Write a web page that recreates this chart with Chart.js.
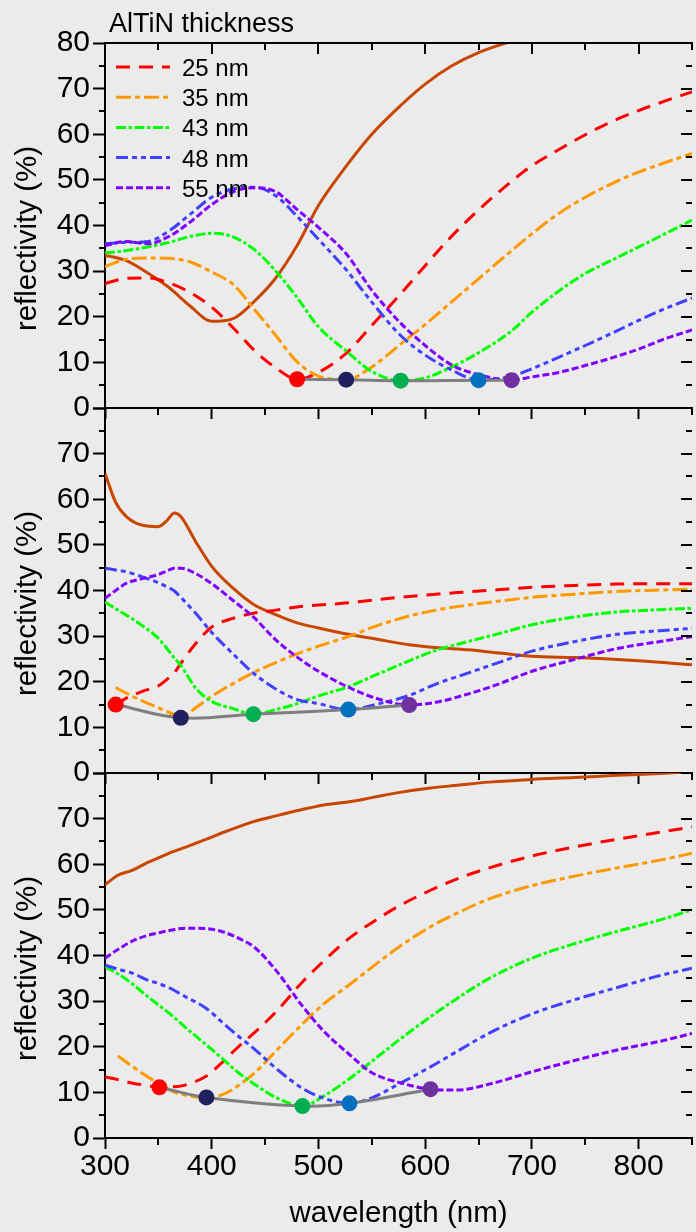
<!DOCTYPE html>
<html>
<head>
<meta charset="utf-8">
<script src="https://cdn.jsdelivr.net/npm/chart.js@4.4.1/dist/chart.umd.min.js"></script>
<style>
  html, body { margin: 0; padding: 0; background: #ebebeb; width: 696px; height: 1232px; overflow: hidden; }
  canvas { position: absolute; left: 0; top: 0; }
</style>
</head>
<body>
<canvas id="panelTop" width="700" height="1232"></canvas>
<canvas id="panelMid" width="700" height="1232"></canvas>
<canvas id="panelBot" width="700" height="1232"></canvas>
<script>
// ---- data ----------------------------------------------------------------
const thicknessLabels = ['25 nm', '35 nm', '43 nm', '48 nm', '55 nm'];

// upper panel
const wlTop   = [300, 320, 340, 360, 380, 400, 420, 440, 460, 480, 500, 526, 550, 577, 600, 625, 650, 681, 700, 725, 750, 775, 800, 825, 850];
const topBare = [33.5, 32.3, 29.6, 26.4, 22.3, 19.0, 19.6, 23.4, 28.5, 35.6, 44.4, 53.0, 60.0, 66.3, 71.0, 75.0, 77.9, 80.4, 81.8, 83.4, 84.9, 86.2, 87.4, 88.5, 89.5];
const top25   = [27.3, 28.4, 28.5, 27.4, 25.3, 22.1, 17.6, 12.6, 8.8, 6.3, 7.8, 12.0, 18.1, 25.0, 31.2, 37.7, 43.4, 49.7, 53.1, 56.6, 59.9, 62.8, 65.2, 67.3, 69.3];
const top35   = [31.0, 32.6, 32.9, 32.8, 32.0, 29.8, 27.1, 21.6, 15.9, 10.1, 7.0, 6.2, 9.0, 14.0, 18.3, 23.3, 28.3, 34.5, 38.2, 42.6, 46.2, 49.2, 51.7, 53.8, 55.8];
const top43   = [34.0, 34.5, 35.3, 36.3, 37.6, 38.3, 37.5, 34.7, 30.0, 24.2, 17.8, 12.5, 8.0, 6.0, 6.6, 9.0, 12.1, 16.9, 21.0, 25.6, 29.5, 32.4, 35.3, 38.2, 41.2];
const top48   = [36.0, 36.3, 36.5, 38.8, 42.5, 46.2, 48.0, 48.4, 46.5, 42.0, 37.0, 30.3, 23.2, 15.9, 11.6, 8.3, 6.1, 7.0, 8.6, 11.1, 13.7, 16.4, 19.2, 21.8, 24.1];
const top55   = [35.6, 36.5, 36.0, 37.6, 40.8, 44.6, 47.4, 48.3, 47.4, 43.5, 39.6, 33.8, 25.8, 18.6, 13.7, 9.4, 7.3, 6.1, 6.8, 7.8, 9.3, 11.0, 12.9, 15.2, 17.1];
const topMinWl = [480, 526, 577, 650, 681];
const topMinR  = [6.3, 6.2, 6.0, 6.1, 6.1];

// middle panel
const wlMid   = [300, 310, 320, 335, 350, 358, 365, 371, 385, 400, 420, 439, 460, 480, 500, 528, 555, 585, 610, 640, 670, 700, 740, 780, 820, 850];
const midBare = [65.7, 59.3, 56.2, 54.3, 54.0, 55.3, 57.0, 56.2, 50.7, 45.3, 40.5, 37.0, 34.7, 32.9, 31.8, 30.4, 29.3, 28.1, 27.5, 27.0, 26.3, 25.6, 25.3, 24.9, 24.3, 23.7];
const mid25   = [null, 15.0, 16.4, 17.9, 19.1, 20.5, 22.0, 24.0, 28.4, 32.0, 33.9, 35.0, 35.7, 36.4, 36.8, 37.3, 38.0, 38.7, 39.2, 39.7, 40.2, 40.7, 41.1, 41.4, 41.5, 41.5];
const mid35   = [null, 18.7, 17.5, 15.8, 14.3, 13.5, 12.8, 12.2, 14.3, 16.8, 19.6, 22.0, 24.2, 26.1, 27.8, 29.9, 32.3, 34.4, 35.7, 36.8, 37.7, 38.5, 39.2, 39.8, 40.1, 40.3];
const mid43   = [37.5, 36.0, 34.6, 32.3, 29.5, 27.3, 25.2, 23.6, 18.6, 15.7, 14.1, 12.9, 13.9, 15.2, 16.9, 18.9, 21.6, 24.6, 26.9, 28.8, 30.6, 32.5, 34.2, 35.3, 35.8, 36.1];
const mid48   = [44.9, 44.5, 44.1, 43.0, 41.7, 40.8, 39.9, 38.5, 35.0, 30.8, 26.1, 21.9, 18.4, 16.1, 15.2, 13.9, 15.1, 17.0, 19.5, 21.9, 24.3, 26.7, 28.8, 30.4, 31.2, 31.7];
const mid55   = [38.3, 40.0, 41.6, 42.6, 43.5, 44.3, 44.9, 44.9, 43.7, 41.5, 37.8, 34.2, 29.2, 25.4, 22.3, 18.8, 16.3, 14.9, 15.5, 17.3, 19.6, 22.3, 24.9, 27.3, 28.8, 29.9];
const midMinWl = [310, 371, 439, 528, 585];
const midMinR  = [15.0, 12.1, 12.9, 13.9, 14.9];

// lower panel
const wlBot   = [300, 312, 326, 340, 351, 363, 375, 395, 410, 425, 440, 460, 485, 505, 529, 550, 575, 605, 630, 660, 700, 740, 780, 820, 850];
const botBare = [55.5, 57.6, 58.7, 60.4, 61.5, 62.7, 63.7, 65.5, 66.9, 68.2, 69.4, 70.6, 72.0, 73.0, 73.7, 74.6, 75.7, 76.7, 77.3, 78.0, 78.6, 79.0, 79.5, 79.9, 80.3];
const bot25   = [13.4, 12.8, 12.0, 11.5, 11.1, 11.2, 11.6, 13.6, 16.6, 20.0, 23.1, 27.6, 34.2, 38.8, 43.8, 47.2, 50.8, 54.3, 56.8, 59.2, 61.8, 63.8, 65.5, 67.0, 68.2];
const bot35   = [null, 18.0, 15.6, 13.4, 11.9, 10.3, 9.4, 8.9, 9.5, 11.5, 14.2, 19.0, 25.0, 29.4, 33.6, 37.4, 41.8, 46.3, 49.3, 52.4, 55.3, 57.4, 59.2, 60.9, 62.4];
const bot43   = [37.5, 36.0, 33.7, 31.0, 29.0, 26.8, 24.3, 20.4, 17.4, 14.3, 11.8, 8.9, 7.0, 9.2, 13.0, 16.8, 21.4, 26.6, 30.6, 35.0, 39.4, 42.6, 45.3, 47.8, 50.0];
const bot48   = [37.9, 37.0, 36.1, 34.6, 33.8, 32.6, 31.0, 28.4, 25.3, 22.3, 19.5, 15.3, 10.9, 8.7, 7.6, 8.8, 11.8, 15.6, 19.0, 23.0, 27.2, 30.3, 33.0, 35.6, 37.2];
const bot55   = [39.4, 41.3, 43.2, 44.4, 45.0, 45.6, 46.0, 45.9, 45.2, 43.8, 41.8, 36.8, 28.9, 23.4, 18.3, 14.3, 12.2, 10.7, 10.5, 11.8, 14.5, 17.0, 19.3, 21.2, 22.9];
const botMinWl = [351, 395, 485, 529, 605];
const botMinR  = [11.1, 8.9, 7.0, 7.6, 10.7];

// ---- styles --------------------------------------------------------------
const FONT = '"Liberation Sans", Arial, Helvetica, sans-serif';
const curveStyles = [
  { color: '#ff0000', dash: [14, 9] },
  { color: '#ff9900', dash: [15, 4, 5, 4] },
  { color: '#00ff00', dash: [10, 2.5, 3.5, 2.5] },
  { color: '#4040ff', dash: [12, 4, 5, 4, 5, 4] },
  { color: '#8000ff', dash: [7, 3] }
];
const bareColor = '#c84600';
const minLineColor = '#7f7f7f';
const minDotColors = ['#ff0000', '#20205f', '#00b050', '#0070c0', '#7030a0'];

Chart.defaults.font.family = FONT;
Chart.defaults.color = '#000';

const toPoints = (xs, ys) => xs.map((x, i) => ({ x, y: ys[i] }));

// tick marks not covered by the axes themselves: minor ticks, inward ticks, top frame, y title
const frameDecor = {
  id: 'frameDecor',
  afterDraw(chart, args, opts) {
    const { ctx, chartArea: a, scales: { x, y } } = chart;
    ctx.save();
    ctx.strokeStyle = '#000';
    ctx.lineWidth = 2;
    ctx.lineCap = 'butt';
    ctx.beginPath();
    for (let v = 5; v < 80; v += 10) {
      const py = Math.round(y.getPixelForValue(v));
      ctx.moveTo(a.left - 6, py); ctx.lineTo(a.left, py);
    }
    for (let v = 0; v <= 80; v += 5) {
      const py = Math.round(y.getPixelForValue(v));
      const len = v % 10 ? 6 : 11;
      ctx.moveTo(a.right, py); ctx.lineTo(a.right - len, py);
    }
    for (let v = 350; v <= 850; v += 100) {
      const px = Math.round(x.getPixelForValue(v));
      ctx.moveTo(px, a.bottom); ctx.lineTo(px, a.bottom + 7);
    }
    if (opts.topAxis) {
      for (let v = 300; v <= 850; v += 50) {
        const px = Math.round(x.getPixelForValue(v));
        const len = v % 100 ? 7 : 11;
        ctx.moveTo(px, a.top); ctx.lineTo(px, a.top + len);
      }
      ctx.moveTo(a.left - 1, a.top); ctx.lineTo(a.right + 1, a.top);
    }
    ctx.stroke();

    ctx.fillStyle = '#000';
    ctx.font = '29.5px ' + FONT;
    ctx.textAlign = 'center';
    ctx.textBaseline = 'middle';
    ctx.translate(28, (a.top + a.bottom) / 2 + 13);
    ctx.rotate(-Math.PI / 2);
    ctx.fillText('reflectivity (%)', 0, 0);
    ctx.restore();
  }
};

// heading and line key inside the upper panel
const keyDecor = {
  id: 'keyDecor',
  afterDraw(chart) {
    const { ctx } = chart;
    ctx.save();
    ctx.fillStyle = '#000';
    ctx.textAlign = 'left';
    ctx.textBaseline = 'alphabetic';
    ctx.font = '27px ' + FONT;
    ctx.fillText('AlTiN thickness', 109, 32);
    ctx.font = '24px ' + FONT;
    const sets = chart.data.datasets.filter(d => thicknessLabels.includes(d.label));
    sets.sort((p, q) => thicknessLabels.indexOf(p.label) - thicknessLabels.indexOf(q.label));
    sets.forEach((d, i) => {
      const base = 76 + i * 30.2;
      const ly = base - 9;
      ctx.strokeStyle = d.borderColor;
      ctx.lineWidth = 3;
      ctx.setLineDash(d.borderDash);
      ctx.beginPath();
      ctx.moveTo(116, ly); ctx.lineTo(170, ly);
      ctx.stroke();
      ctx.setLineDash([]);
      ctx.fillText(d.label, 182, base);
    });
    ctx.restore();
  }
};

function buildPanel(id, wl, bare, curves, minWl, minR, layout) {
  const datasets = [];
  datasets.push({
    label: 'minimum',
    data: toPoints(minWl, minR),
    borderColor: minLineColor,
    borderWidth: 3,
    tension: 0.4,
    pointRadius: 8,
    pointBorderWidth: 0,
    pointBackgroundColor: minDotColors,
    order: 0
  });
  curves.forEach((vals, i) => {
    datasets.push({
      label: thicknessLabels[i],
      data: toPoints(wl, vals),
      borderColor: curveStyles[i].color,
      borderDash: curveStyles[i].dash,
      borderWidth: 3,
      pointRadius: 0,
      cubicInterpolationMode: 'monotone',
      order: 5 - i
    });
  });
  datasets.push({
    label: 'uncoated',
    data: toPoints(wl, bare),
    borderColor: bareColor,
    borderWidth: 3,
    pointRadius: 0,
    cubicInterpolationMode: 'monotone',
    order: 6
  });

  const axisGrid = { display: true, drawOnChartArea: false, drawTicks: true, tickWidth: 2, tickColor: '#000' };
  const axisBorder = { display: true, color: '#000', width: 2 };

  return new Chart(document.getElementById(id), {
    type: 'line',
    data: { datasets },
    options: {
      responsive: false,
      animation: false,
      devicePixelRatio: 1,
      events: [],
      layout: { padding: { top: layout.top, bottom: layout.bottom, left: 0, right: 2.5 } },
      plugins: {
        legend: { display: false },
        tooltip: { enabled: false },
        frameDecor: { topAxis: layout.topAxis }
      },
      scales: {
        x: {
          type: 'linear',
          position: 'bottom',
          min: 300, max: 850,
          grid: Object.assign({}, axisGrid, { tickLength: 11 }),
          border: axisBorder,
          ticks: {
            display: layout.xLabels,
            stepSize: 100,
            includeBounds: false,
            padding: 0,
            font: { size: 30 },
            color: '#000',
            maxRotation: 0
          },
          title: {
            display: layout.xLabels,
            text: 'wavelength (nm)',
            font: { size: 29.5 },
            color: '#000',
            padding: { top: 0, bottom: 0 }
          },
          afterFit: s => { s.height = layout.xHeight; }
        },
        y: {
          type: 'linear',
          position: 'left',
          min: 0, max: 80,
          grid: Object.assign({}, axisGrid, { tickLength: 12 }),
          border: axisBorder,
          ticks: {
            stepSize: 10,
            padding: 3,
            font: { size: 30 },
            color: '#000',
            callback: v => (v === 80 && !layout.topAxis) ? '' : String(v)
          },
          afterFit: s => { s.width = 105; }
        }
      }
    },
    plugins: layout.topAxis ? [frameDecor, keyDecor] : [frameDecor]
  });
}

buildPanel('panelTop', wlTop, topBare, [top25, top35, top43, top48, top55], topMinWl, topMinR,
  { top: 43, bottom: 804, xHeight: 20, xLabels: false, topAxis: true });
buildPanel('panelMid', wlMid, midBare, [mid25, mid35, mid43, mid48, mid55], midMinWl, midMinR,
  { top: 408, bottom: 439, xHeight: 20, xLabels: false, topAxis: false });
buildPanel('panelBot', wlBot, botBare, [bot25, bot35, bot43, bot48, bot55], botMinWl, botMinR,
  { top: 773, bottom: 0, xHeight: 94, xLabels: true, topAxis: false });
</script>
</body>
</html>
